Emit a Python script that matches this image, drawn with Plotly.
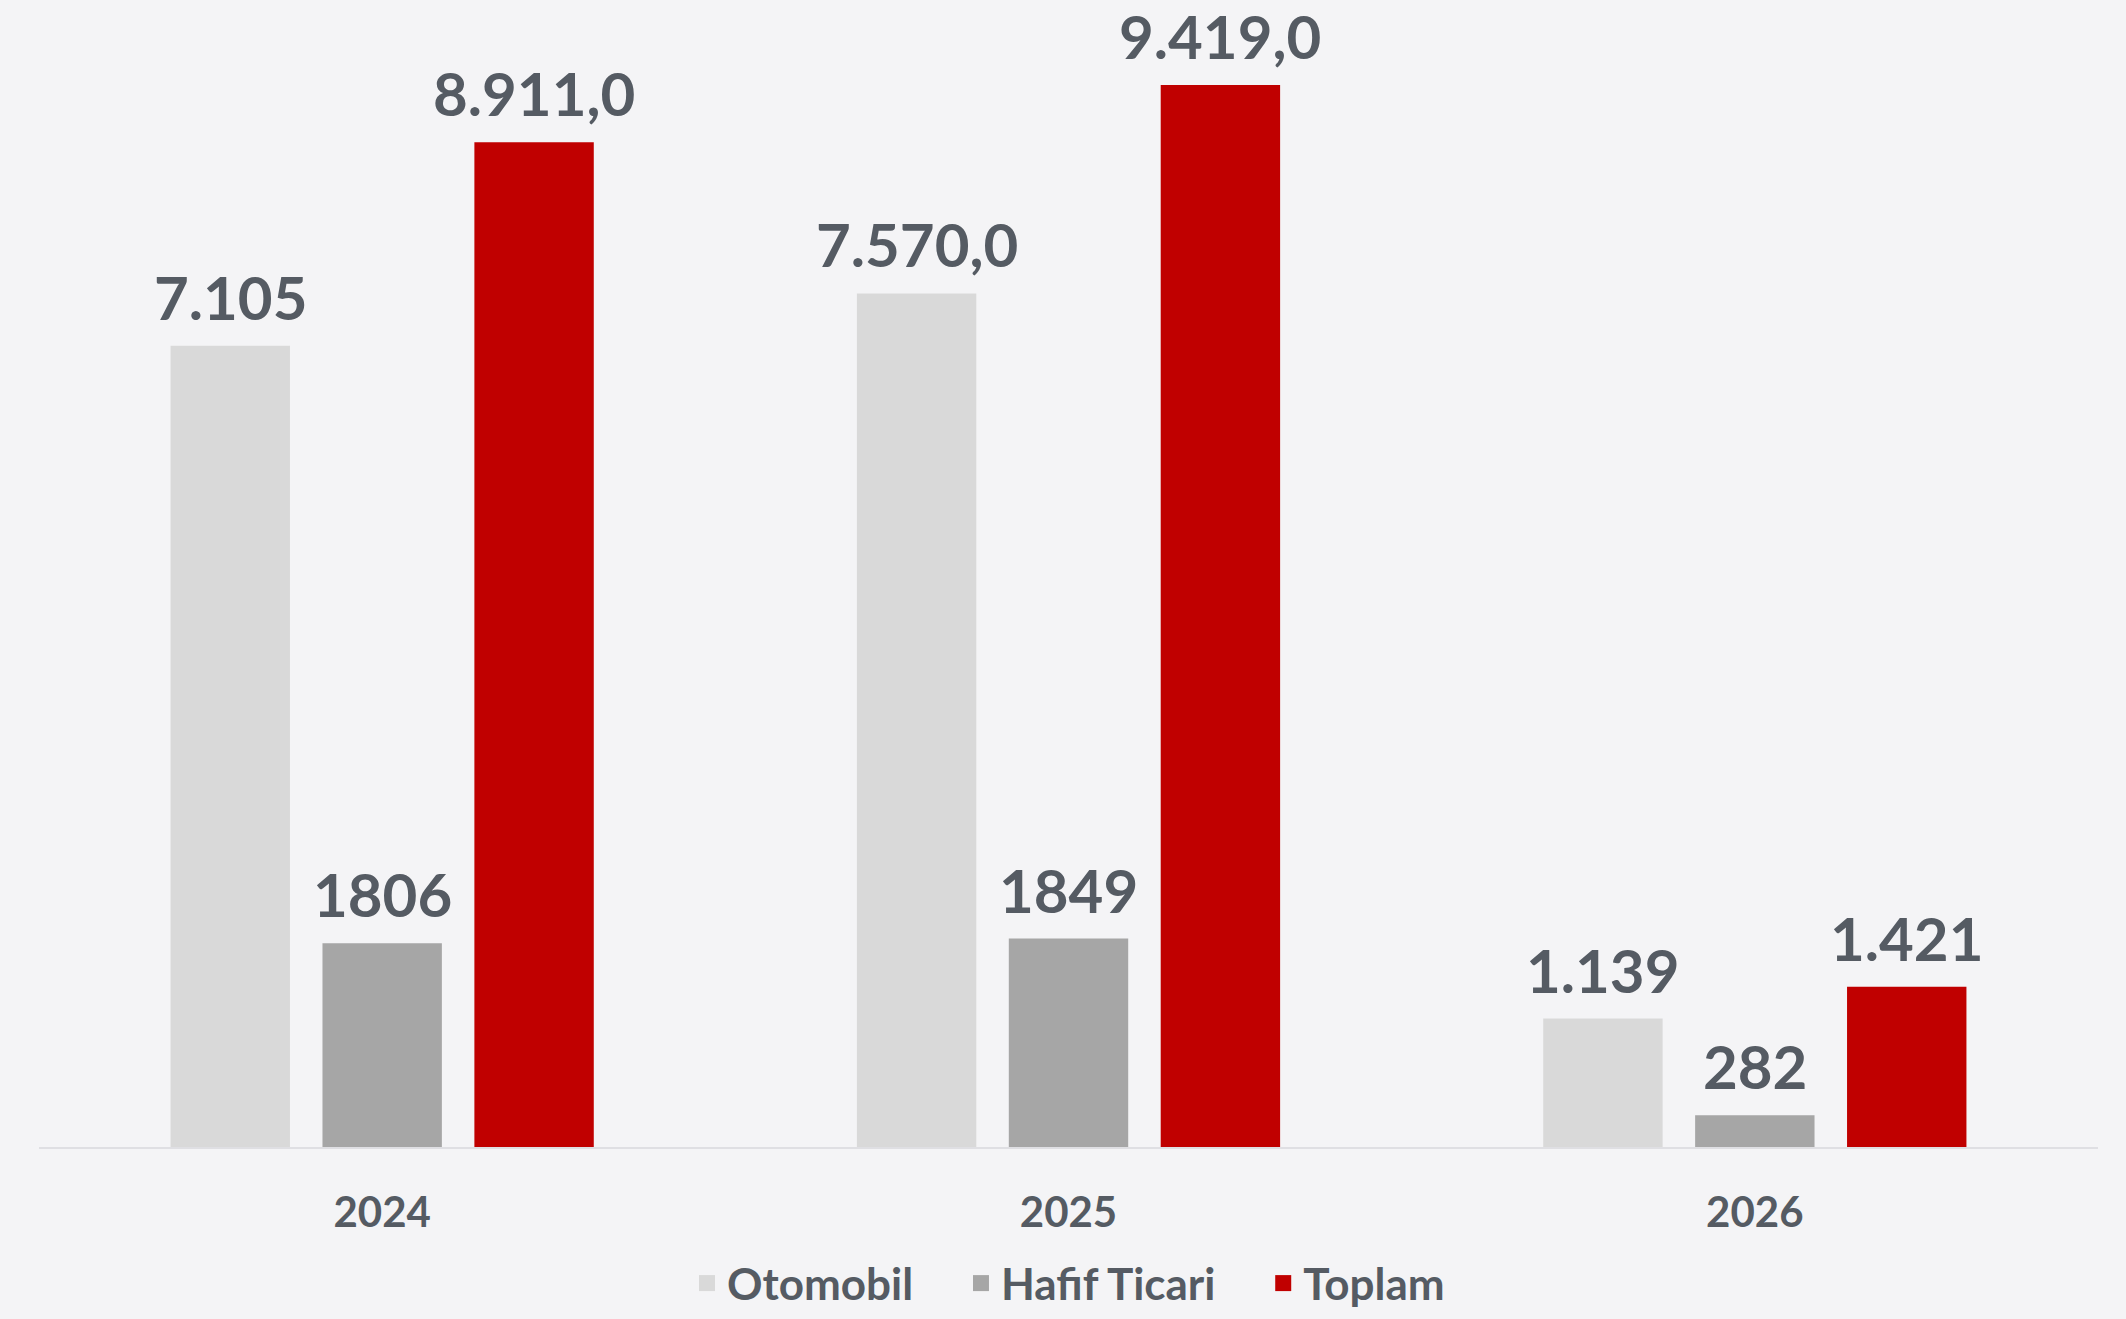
import plotly.graph_objects as go

# Data
years = ["2024", "2025", "2026"]
otomobil = [7105, 7570, 1139]
hafif_ticari = [1806, 1849, 282]
toplam = [8911, 9419, 1421]

otomobil_labels = ["7.105", "7.570,0", "1.139"]
hafif_labels = ["1806", "1849", "282"]
toplam_labels = ["8.911,0", "9.419,0", "1.421"]

TEXT = "#555B63"
FONT = "Lato"
NB = "\u00a0" * 4  # extra room between legend entries

series = [
    ("Otomobil", otomobil, otomobil_labels, "#D9D9D9"),
    ("Hafif Ticari", hafif_ticari, hafif_labels, "#A6A6A6"),
    ("Toplam", toplam, toplam_labels, "#C00000"),
]

W, H = 2126, 1319
M = dict(l=39, r=28, t=20, b=172)
BARGAP = 0.336
# pixel width of one bar slot inside a group, used to shift value labels
band = (W - M["l"] - M["r"]) / len(years)
slot = band * (1 - BARGAP) / len(series)

fig = go.Figure()
annotations = []
for i, (name, vals, labels, colour) in enumerate(series):
    fig.add_trace(go.Bar(
        name=name,
        x=years,
        y=vals,
        marker=dict(color=colour, line=dict(width=0)),
        showlegend=False,
        hoverinfo="skip",
    ))
    # value labels above bars (category index on x, shifted to the bar slot)
    for j, (v, lab) in enumerate(zip(vals, labels)):
        annotations.append(dict(
            x=j, y=v, text=lab,
            xref="x", yref="y",
            xanchor="center", yanchor="bottom",
            xshift=(i - 1) * slot, yshift=11,
            showarrow=False,
            font=dict(family=FONT, size=60, color=TEXT, weight="bold"),
        ))

# legend entries with bigger square swatches
for i, (name, _, _, colour) in enumerate(series):
    fig.add_trace(go.Scatter(
        name=name + (NB if i < len(series) - 1 else ""),
        x=[years[0]], y=[None],
        mode="markers",
        marker=dict(symbol="square", size=27, color=colour),
        showlegend=True,
        hoverinfo="skip",
    ))

fig.update_layout(
    width=W,
    height=H,
    barmode="group",
    bargap=BARGAP,
    bargroupgap=0.214,
    paper_bgcolor="#F4F4F6",
    plot_bgcolor="#F4F4F6",
    margin=M,
    font=dict(family=FONT, color=TEXT),
    annotations=annotations,
    legend=dict(
        orientation="h",
        xref="paper", x=0.5, xanchor="center",
        yref="container", y=-0.01, yanchor="bottom",
        font=dict(family=FONT, size=44, color=TEXT, weight="bold"),
        itemwidth=30,
        traceorder="normal",
    ),
    xaxis=dict(
        type="category",
        categoryorder="array",
        categoryarray=years,
        range=[-0.5, len(years) - 0.5],
        showline=True,
        linecolor="#DFDFE3",
        linewidth=2,
        ticks="",
        tickfont=dict(family=FONT, size=42, color=TEXT, weight="bold"),
        ticklabelstandoff=28,
        showgrid=False,
    ),
    yaxis=dict(
        range=[0, 9995],
        visible=False,
        showgrid=False,
        zeroline=False,
    ),
)

fig.write_html(
    "out.html",
    config={"displayModeBar": False},
    post_script="document.body.style.margin='0';document.body.style.overflow='hidden';",
)
